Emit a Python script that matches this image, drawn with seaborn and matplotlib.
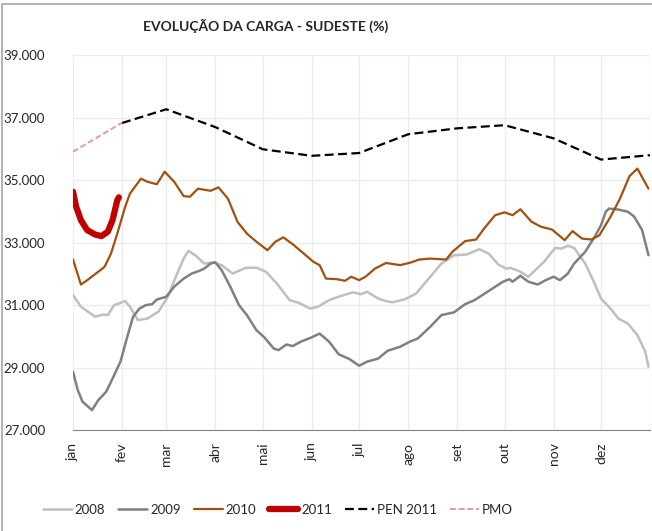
import matplotlib
matplotlib.use("Agg")
import matplotlib.pyplot as plt
import matplotlib.patches as patches
import seaborn as sns

# Data (day of year, carga in thousands)
days_2008 = [0, 5, 14, 19, 22, 26, 33, 36, 41, 47, 54, 60, 65, 70, 73, 78, 83, 89, 94, 101,
             109, 116, 122, 129, 137, 143, 150, 155, 162, 168, 177, 182, 186, 193, 198, 202,
             210, 217, 225, 233, 241, 249, 257, 263, 269, 274, 277, 283, 288, 292, 298, 305,
             309, 313, 317, 324, 329, 334, 340, 345, 351, 357, 362, 364]
vals_2008 = [31.32, 30.95, 30.63, 30.70, 30.68, 31.00, 31.13, 30.95, 30.52, 30.57, 30.79, 31.27,
             31.91, 32.49, 32.74, 32.57, 32.33, 32.37, 32.28, 32.01, 32.19, 32.20, 32.07, 31.69,
             31.16, 31.07, 30.89, 30.95, 31.16, 31.27, 31.41, 31.35, 31.43, 31.21, 31.13, 31.09,
             31.19, 31.37, 31.85, 32.33, 32.60, 32.62, 32.79, 32.65, 32.30, 32.17, 32.19, 32.07,
             31.91, 32.10, 32.39, 32.83, 32.81, 32.90, 32.83, 32.33, 31.80, 31.21, 30.89, 30.57,
             30.41, 30.04, 29.51, 29.03]

days_2009 = [0, 3, 6, 12, 16, 21, 25, 30, 34, 38, 42, 46, 50, 53, 59, 64, 70, 75, 80, 83, 87,
             90, 94, 99, 105, 110, 116, 121, 127, 130, 135, 139, 144, 151, 156, 162, 168, 175,
             181, 186, 193, 199, 207, 213, 218, 226, 233, 241, 248, 254, 261, 268, 272, 276,
             278, 283, 288, 294, 299, 304, 308, 313, 317, 324, 330, 334, 337, 339, 345, 351,
             355, 360, 364]
vals_2009 = [28.87, 28.28, 27.91, 27.64, 27.96, 28.23, 28.65, 29.19, 29.93, 30.63, 30.89, 31.00,
             31.03, 31.18, 31.27, 31.59, 31.85, 32.01, 32.10, 32.17, 32.33, 32.37, 32.12, 31.64,
             31.00, 30.68, 30.20, 29.97, 29.61, 29.56, 29.74, 29.69, 29.83, 29.97, 30.09, 29.83,
             29.43, 29.27, 29.06, 29.19, 29.29, 29.54, 29.67, 29.83, 29.93, 30.31, 30.68, 30.77,
             31.03, 31.16, 31.39, 31.62, 31.75, 31.83, 31.75, 31.94, 31.75, 31.66, 31.80, 31.91,
             31.80, 32.01, 32.33, 32.71, 33.19, 33.56, 33.99, 34.09, 34.06, 33.99, 33.83, 33.40,
             32.60]

days_2010 = [0, 5, 9, 16, 20, 24, 28, 33, 36, 43, 47, 53, 58, 64, 70, 74, 79, 87, 92, 98, 104,
             110, 116, 123, 128, 133, 139, 146, 152, 156, 160, 167, 172, 176, 181, 185, 191,
             198, 207, 214, 219, 226, 236, 240, 248, 255, 260, 267, 273, 278, 283, 290, 296,
             303, 311, 316, 322, 328, 333, 340, 346, 352, 357, 364]
vals_2010 = [32.46, 31.66, 31.80, 32.07, 32.23, 32.65, 33.29, 34.15, 34.57, 35.05, 34.95, 34.87,
             35.27, 34.95, 34.49, 34.47, 34.73, 34.66, 34.77, 34.41, 33.67, 33.29, 33.03, 32.76,
             33.03, 33.17, 32.95, 32.65, 32.39, 32.28, 31.85, 31.83, 31.78, 31.91, 31.80, 31.91,
             32.17, 32.35, 32.28, 32.37, 32.46, 32.49, 32.46, 32.71, 33.05, 33.10, 33.45, 33.88,
             33.97, 33.88, 34.07, 33.67, 33.51, 33.42, 33.08, 33.37, 33.13, 33.10, 33.24, 33.83,
             34.41, 35.13, 35.37, 34.73]

days_2011 = [0, 2, 5, 9, 14, 18, 22, 25, 28, 29]
vals_2011 = [34.63, 34.15, 33.72, 33.40, 33.26, 33.21, 33.35, 33.72, 34.36, 34.45]

days_pen = [31, 59, 90, 120, 151, 181, 212, 243, 273, 304, 334, 365]
vals_pen = [36.83, 37.27, 36.70, 35.99, 35.78, 35.87, 36.47, 36.66, 36.76, 36.34, 35.66, 35.80]

days_pmo = [0, 31]
vals_pmo = [35.91, 36.84]

month_starts = [0, 31, 59, 90, 120, 151, 181, 212, 243, 273, 304, 334, 365]
month_labels = ['jan', 'fev', 'mar', 'abr', 'mai', 'jun', 'jul', 'ago', 'set', 'out', 'nov', 'dez', '']
y_ticks = [27, 29, 31, 33, 35, 37, 39]

###########################################################
# Plot
###########################################################
sns.set_style("white")
plt.rcParams['font.family'] = ['Liberation Sans Narrow', 'Lato', 'DejaVu Sans']

fig = plt.figure(figsize=(6.52, 5.31), dpi=100)
ax = fig.add_axes([0.112, 0.190, 0.885, 0.706])

sns.lineplot(x=days_2008, y=vals_2008, ax=ax, color='#bfbfbf', lw=1.8, label='2008')
sns.lineplot(x=days_2009, y=vals_2009, ax=ax, color='#808080', lw=1.8, label='2009')
sns.lineplot(x=days_2010, y=vals_2010, ax=ax, color='#a3500e', lw=1.6, label='2010')
sns.lineplot(x=days_2011, y=vals_2011, ax=ax, color='#c00000', lw=4.5, label='2011')
sns.lineplot(x=days_pen, y=vals_pen, ax=ax, color='black', lw=1.6, label='PEN 2011',
             linestyle=(0, (4, 2)))
sns.lineplot(x=days_pmo, y=vals_pmo, ax=ax, color='#e39a9a', lw=1.4, label='PMO',
             linestyle=(0, (3, 1.5)))

ax.set_xlim(0, 365)
ax.set_ylim(27, 39)
ax.set_xticks(month_starts)
ax.set_xticklabels(month_labels, rotation=90, fontsize=10)
ax.set_yticks(y_ticks)
ax.set_yticklabels([f"{v}.000" for v in y_ticks], fontsize=9.5)
ax.grid(True, color='#ebebeb', lw=0.9)
ax.set_axisbelow(True)
for s in ['top', 'right', 'left']:
    ax.spines[s].set_visible(False)
ax.spines['bottom'].set_color('#868686')
ax.tick_params(axis='x', direction='out', length=5, color='#868686', pad=4)
ax.tick_params(axis='y', length=0, pad=20)
ax.set_xlabel('')
ax.set_ylabel('')

fig.text(0.408, 0.952, 'EVOLUÇÃO DA CARGA - SUDESTE (%)', ha='center', va='center',
         fontsize=10, fontweight='bold')

handles, labels = ax.get_legend_handles_labels()
ax.get_legend().remove()
fig.legend(handles, labels, loc='center', bbox_to_anchor=(0.426, 0.040), ncol=6,
           frameon=False, fontsize=9.5, handlelength=2.2, handletextpad=0.2,
           columnspacing=1.0)

# chart border
fig.patches.append(patches.Rectangle((2 / 652, -0.05), 1.1, 1 - 4 / 531 + 0.05,
                                     transform=fig.transFigure, fill=False,
                                     edgecolor='#a6a6a6', lw=1.2))

fig.savefig('out.png', dpi=100)
